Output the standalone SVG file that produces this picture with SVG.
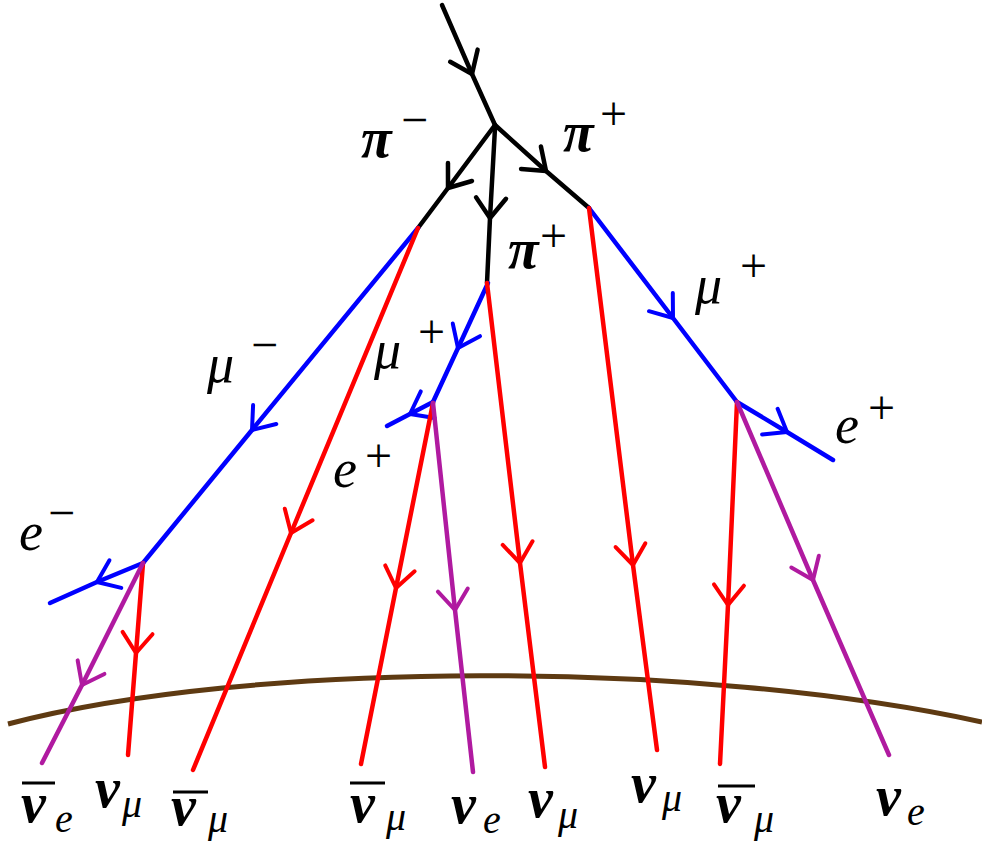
<svg xmlns="http://www.w3.org/2000/svg" width="982" height="848" viewBox="0 0 982 848">
<defs>
<marker id="ak" markerUnits="userSpaceOnUse" markerWidth="50" markerHeight="50" refX="0" refY="0" viewBox="-25 -25 50 50" orient="auto"><path d="M-20,-15 L0,0 L-20,15" fill="none" stroke="#000" stroke-width="4.5" stroke-linecap="round" stroke-linejoin="round"/></marker>
<marker id="ab" markerUnits="userSpaceOnUse" markerWidth="50" markerHeight="50" refX="0" refY="0" viewBox="-25 -25 50 50" orient="auto"><path d="M-20,-15 L0,0 L-20,15" fill="none" stroke="#0000ff" stroke-width="4" stroke-linecap="round" stroke-linejoin="round"/></marker>
<marker id="ar" markerUnits="userSpaceOnUse" markerWidth="50" markerHeight="50" refX="0" refY="0" viewBox="-25 -25 50 50" orient="auto"><path d="M-20,-15 L0,0 L-20,15" fill="none" stroke="#ff0000" stroke-width="4" stroke-linecap="round" stroke-linejoin="round"/></marker>
<marker id="am" markerUnits="userSpaceOnUse" markerWidth="50" markerHeight="50" refX="0" refY="0" viewBox="-25 -25 50 50" orient="auto"><path d="M-20,-15 L0,0 L-20,15" fill="none" stroke="#b01aa0" stroke-width="4" stroke-linecap="round" stroke-linejoin="round"/></marker>
</defs>
<rect width="982" height="848" fill="#fff"/>
<g id="earth"><path d="M8,724 C250,660 700,660 982,722" fill="none" stroke="#5e3a12" stroke-width="5"/></g>
<g id="connectors" fill="none" stroke-width="4.5" stroke-linecap="round" stroke-linejoin="round">
<polyline stroke="#000" marker-mid="url(#ak)" points="442,5 472,74 495,125"/>
<polyline stroke="#000" marker-mid="url(#ak)" points="495,125 448,188 418,228"/>
<polyline stroke="#000" marker-mid="url(#ak)" points="495,128 490,218 487,283"/>
<polyline stroke="#000" marker-mid="url(#ak)" points="495,125 546,171 589,208"/>
<polyline stroke="#0000ff" marker-mid="url(#ab)" points="418,228 252,430 143,563"/>
<polyline stroke="#0000ff" marker-mid="url(#ab)" points="143,563 97,582 50,603"/>
<polyline stroke="#0000ff" marker-mid="url(#ab)" points="488,283 458,348 433,402"/>
<polyline stroke="#0000ff" marker-mid="url(#ab)" points="433,402 410,414 387,426"/>
<polyline stroke="#0000ff" marker-mid="url(#ab)" points="589,208 673,318 737,402"/>
<polyline stroke="#0000ff" marker-mid="url(#ab)" points="737,402 787,432 833,460"/>
<polyline stroke="#ff0000" marker-mid="url(#ar)" points="418,228 291,533 193,770"/>
<polyline stroke="#ff0000" marker-mid="url(#ar)" points="143,563 136,653 128,755"/>
<polyline stroke="#ff0000" marker-mid="url(#ar)" points="433,403 396,588 361,764"/>
<polyline stroke="#ff0000" marker-mid="url(#ar)" points="487,283 520,563 545,767"/>
<polyline stroke="#ff0000" marker-mid="url(#ar)" points="589,208 633,565 657,750"/>
<polyline stroke="#ff0000" marker-mid="url(#ar)" points="737,402 728,605 720,764"/>
<polyline stroke="#b01aa0" marker-mid="url(#am)" points="143,563 82,685 42,763"/>
<polyline stroke="#b01aa0" marker-mid="url(#am)" points="433,403 455,610 473,772"/>
<polyline stroke="#b01aa0" marker-mid="url(#am)" points="737,402 813,580 889,755"/>
</g>
<g id="pi-minus"><text x="361" y="157" font-family="Liberation Serif" font-style="italic" font-weight="bold" font-size="56">π</text><text x="401" y="136" font-family="Liberation Serif" font-size="48">−</text></g>
<g id="pi-plus-right"><text x="563" y="151" font-family="Liberation Serif" font-style="italic" font-weight="bold" font-size="56">π</text><text x="600" y="130" font-family="Liberation Serif" font-size="48">+</text></g>
<g id="pi-plus-mid"><text x="508" y="268" font-family="Liberation Serif" font-style="italic" font-weight="bold" font-size="56">π</text><text x="540" y="252" font-family="Liberation Serif" font-size="48">+</text></g>
<text id="mu-minus" x="207" y="382" font-family="Liberation Serif" font-style="italic" font-size="54">μ<tspan x="251" y="361" font-style="normal" font-size="48">−</tspan></text>
<text id="mu-plus-mid" x="374" y="368" font-family="Liberation Serif" font-style="italic" font-size="54">μ<tspan x="418" y="348" font-style="normal" font-size="48">+</tspan></text>
<text id="mu-plus-right" x="695" y="303" font-family="Liberation Serif" font-style="italic" font-size="54">μ<tspan x="740" y="282" font-style="normal" font-size="48">+</tspan></text>
<g id="e-plus-mid" font-family="Liberation Serif"><text x="333" y="487" font-style="italic" font-size="54">e</text><text x="365" y="472" font-size="48">+</text></g>
<g id="e-plus-right" font-family="Liberation Serif"><text x="835" y="443" font-style="italic" font-size="54">e</text><text x="868" y="424" font-size="48">+</text></g>
<g id="e-minus" font-family="Liberation Serif"><text x="19" y="550" font-style="italic" font-size="54">e</text><text x="48" y="529" font-size="48">−</text></g>
<g id="nubar-e"><line x1="22" y1="783" x2="55" y2="783" stroke="#000" stroke-width="3"/><text x="21" y="822" font-family="Liberation Serif" font-style="italic" font-weight="bold" font-size="56">ν<tspan x="55" y="832" font-weight="normal" font-size="40">e</tspan></text></g>
<g id="nu-mu-1"><text x="95" y="807" font-family="Liberation Serif" font-style="italic" font-weight="bold" font-size="56">ν<tspan x="122" y="817" font-weight="normal" font-size="40">μ</tspan></text></g>
<g id="nubar-mu-1"><line x1="173" y1="792" x2="208" y2="792" stroke="#000" stroke-width="3"/><text x="171" y="825" font-family="Liberation Serif" font-style="italic" font-weight="bold" font-size="56">ν<tspan x="208" y="832" font-weight="normal" font-size="40">μ</tspan></text></g>
<g id="nubar-mu-2"><line x1="350" y1="783" x2="385" y2="783" stroke="#000" stroke-width="3"/><text x="350" y="822" font-family="Liberation Serif" font-style="italic" font-weight="bold" font-size="56">ν<tspan x="386" y="830" font-weight="normal" font-size="40">μ</tspan></text></g>
<g id="nu-e-1"><text x="451" y="823" font-family="Liberation Serif" font-style="italic" font-weight="bold" font-size="56">ν<tspan x="483" y="833" font-weight="normal" font-size="40">e</tspan></text></g>
<g id="nu-mu-2"><text x="528" y="817" font-family="Liberation Serif" font-style="italic" font-weight="bold" font-size="56">ν<tspan x="558" y="828" font-weight="normal" font-size="40">μ</tspan></text></g>
<g id="nu-mu-3"><text x="631" y="802" font-family="Liberation Serif" font-style="italic" font-weight="bold" font-size="56">ν<tspan x="662" y="811" font-weight="normal" font-size="40">μ</tspan></text></g>
<g id="nubar-mu-3"><line x1="718" y1="786" x2="755" y2="786" stroke="#000" stroke-width="3"/><text x="716" y="822" font-family="Liberation Serif" font-style="italic" font-weight="bold" font-size="56">ν<tspan x="754" y="832" font-weight="normal" font-size="40">μ</tspan></text></g>
<g id="nu-e-2"><text x="876" y="815" font-family="Liberation Serif" font-style="italic" font-weight="bold" font-size="56">ν<tspan x="907" y="825" font-weight="normal" font-size="40">e</tspan></text></g>
</svg>
